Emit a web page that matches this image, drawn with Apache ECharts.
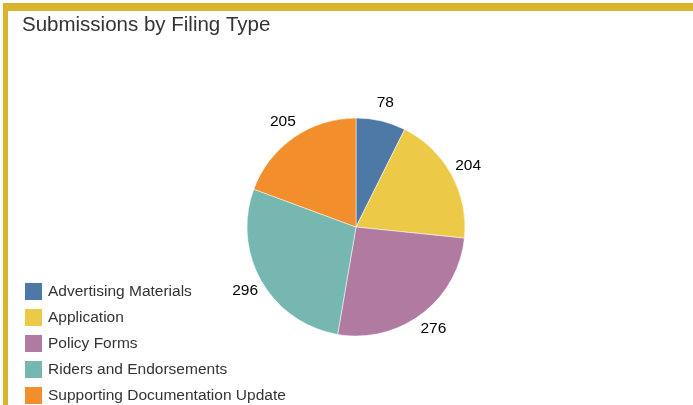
<!DOCTYPE html>
<html>
<head>
<meta charset="utf-8">
<script src="https://cdn.jsdelivr.net/npm/echarts@6/dist/echarts.min.js"></script>
<style>
  html, body { margin: 0; padding: 0; background: #fff; }
  #frame {
    position: absolute; left: 3px; top: 3px; width: 690px; height: 402px;
    border-top: 8px solid #DBB42E; border-left: 5px solid #DBB42E;
    box-sizing: border-box;
  }
  #chart { position: absolute; left: 0; top: 0; width: 693px; height: 405px; }
</style>
</head>
<body>
<div id="frame"></div>
<div id="chart"></div>
<script>
const categories = ['Advertising Materials', 'Application', 'Policy Forms', 'Riders and Endorsements', 'Supporting Documentation Update'];
const counts = [78, 204, 276, 296, 205];
const colors = ['#4E79A7', '#EDC948', '#B07AA1', '#76B7B2', '#F28E2B'];

const chart = echarts.init(document.getElementById('chart'));

const pieData = categories.map((name, i) => ({ name, value: counts[i] }));

const option = {
  animation: false,
  color: colors,
  title: {
    text: 'Submissions by Filing Type',
    left: 22,
    top: 15,
    padding: 0,
    textStyle: { fontFamily: 'Liberation Sans, Arial', fontSize: 20.5, fontWeight: 'normal', color: '#333' }
  },
  legend: {
    orient: 'vertical',
    left: 23,
    top: 281,
    height: 160,
    padding: 0,
    itemWidth: 19,
    itemHeight: 19,
    itemGap: 5,
    icon: 'rect',
    data: categories,
    textStyle: { fontFamily: 'Liberation Sans, Arial', fontSize: 15.5, color: '#333' }
  },
  series: [
    {
      type: 'pie',
      center: [356, 227],
      radius: 109,
      startAngle: 90,
      clockwise: true,
      data: pieData,
      itemStyle: { borderColor: '#fff', borderWidth: 0.5 },
      label: { show: false },
      labelLine: { show: false },
      emphasis: { disabled: true }
    },
    {
      // invisible ring that carries the value labels just outside the pie
      type: 'pie',
      center: [356, 227],
      radius: [109, 141],
      startAngle: 90,
      clockwise: true,
      silent: true,
      data: pieData,
      itemStyle: { color: 'transparent' },
      label: {
        show: true,
        position: 'inside',
        formatter: '{c}',
        fontFamily: 'Liberation Sans, Arial',
        fontSize: 15.5,
        color: '#000'
      },
      labelLine: { show: false },
      emphasis: { disabled: true }
    }
  ]
};

chart.setOption(option);
</script>
</body>
</html>
